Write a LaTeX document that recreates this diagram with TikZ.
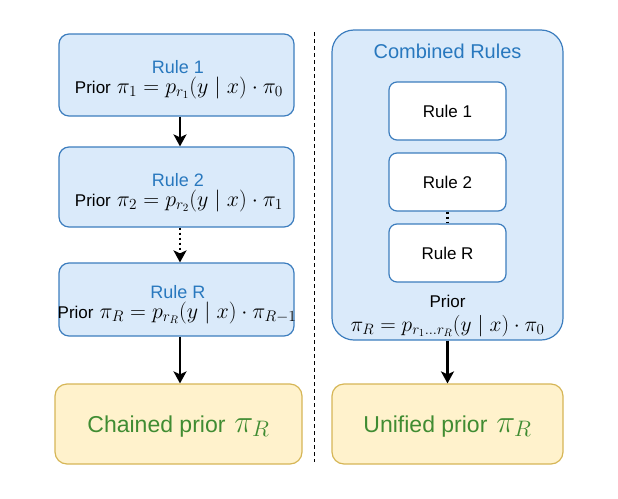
\RequirePackage{fix-cm}
\documentclass[tikz,border=0pt]{standalone}
\usepackage{fontspec}
\setmainfont{Liberation Sans}
\usetikzlibrary{arrows.meta}
\definecolor{bstroke}{RGB}{60,125,190}
\definecolor{bfill}{RGB}{218,234,250}
\definecolor{btext}{RGB}{40,120,190}
\definecolor{yfill}{RGB}{255,242,204}
\definecolor{ystroke}{RGB}{214,182,86}
\definecolor{gtext}{RGB}{64,140,50}
\newcommand{\sm}[1]{{\fontsize{17}{19}\selectfont #1}}
\newcommand{\bg}[1]{{\fontsize{23}{26}\selectfont #1}}
\begin{document}
\begin{tikzpicture}[x=1pt,y=-1pt,
  bluebox/.style={draw=bstroke,fill=bfill,line width=1.2pt,rounded corners=10pt,inner sep=0pt,minimum width=235pt,minimum height=#1},
  yelbox/.style={draw=ystroke,fill=yfill,line width=1.2pt,rounded corners=12pt,inner sep=0pt,minimum height=80pt},
  whitebox/.style={draw=bstroke,fill=white,line width=1.2pt,rounded corners=8pt,inner sep=0pt,minimum width=117pt,minimum height=58pt,font=\fontsize{17}{19}\selectfont},
  ttl/.style={text=btext,font=\fontsize{18}{20}\selectfont,inner sep=0pt,anchor=base},
  pri/.style={font=\fontsize{22}{24}\selectfont,inner sep=0pt,anchor=base},
  big/.style={text=gtext,font=\fontsize{32}{36}\selectfont,inner sep=0pt,anchor=base},
  arr/.style={line width=2.4pt,-{Stealth[length=12pt,width=13pt,inset=3pt]}},
  darr/.style={arr,dash pattern=on 2.5pt off 2.5pt}
]
\useasboundingbox (0,0) rectangle (618,498);
% left column
\node[bluebox=82pt] (r1) at (176.5,75) {};
\node[ttl] (r1t) at (178,73) {Rule 1};
\node[pri] (r1p) at (179,93) {\sm{Prior} $\pi_1 = p_{r_1}(y \mid x)\cdot \pi_0$};
\node[bluebox=80pt] (r2) at (176.5,187) {};
\node[ttl] (r2t) at (178,186) {Rule 2};
\node[pri] (r2p) at (179,206) {\sm{Prior} $\pi_2 = p_{r_2}(y \mid x)\cdot \pi_1$};
\node[bluebox=73pt] (rR) at (176.5,299.5) {};
\node[ttl] (rRt) at (178,298.5) {Rule R};
\node[pri] (rRp) at (177,318) {\sm{Prior} $\pi_R = p_{r_R}(y \mid x)\cdot \pi_{R-1}$};
\node[yelbox,minimum width=247pt] (ch) at (178.5,424) {};
\node[big] (cht) at (178.5,432) {\bg{Chained prior} $\pi_R$};
\draw[arr] ([xshift=3.5pt]r1.south) -- ([xshift=3.5pt]r2.north);
\draw[darr] ([xshift=3.5pt]r2.south) -- ([xshift=3.5pt]rR.north);
\draw[arr] ([xshift=3.5pt]rR.south) -- ([xshift=1.5pt]ch.north);
% divider
\coordinate (d1) at (314,32);
\coordinate (d2) at (314,462);
\draw[line width=1pt,dash pattern=on 4pt off 3pt] (d1) -- (d2);
% right column
\node[draw=bstroke,fill=bfill,line width=1.2pt,rounded corners=22pt,inner sep=0pt,minimum width=231pt,minimum height=310pt] (cb) at (447.5,185) {};
\node[ttl,font=\fontsize{20}{23}\selectfont] (cbt) at (447.5,58) {Combined Rules};
\node[whitebox] (w1) at (447.5,111) {Rule 1};
\node[whitebox] (w2) at (447.5,182) {Rule 2};
\node[whitebox] (wR) at (447.5,253) {Rule R};
\draw[line width=2.2pt,dash pattern=on 2.5pt off 2.5pt] (w2.south) -- (wR.north);
\node[pri] (cbp) at (447.5,307) {\sm{Prior}};
\node[pri,font=\fontsize{21.5}{24}\selectfont] (cbf) at (447.5,331) {$\pi_R = p_{r_1\ldots r_R}(y \mid x)\cdot \pi_0$};
\node[yelbox,minimum width=231pt] (un) at (447.5,424) {};
\node[big] (unt) at (447.5,432) {\bg{Unified prior} $\pi_R$};
\draw[arr] (cb.south) -- (un.north);
\end{tikzpicture}
\end{document}
